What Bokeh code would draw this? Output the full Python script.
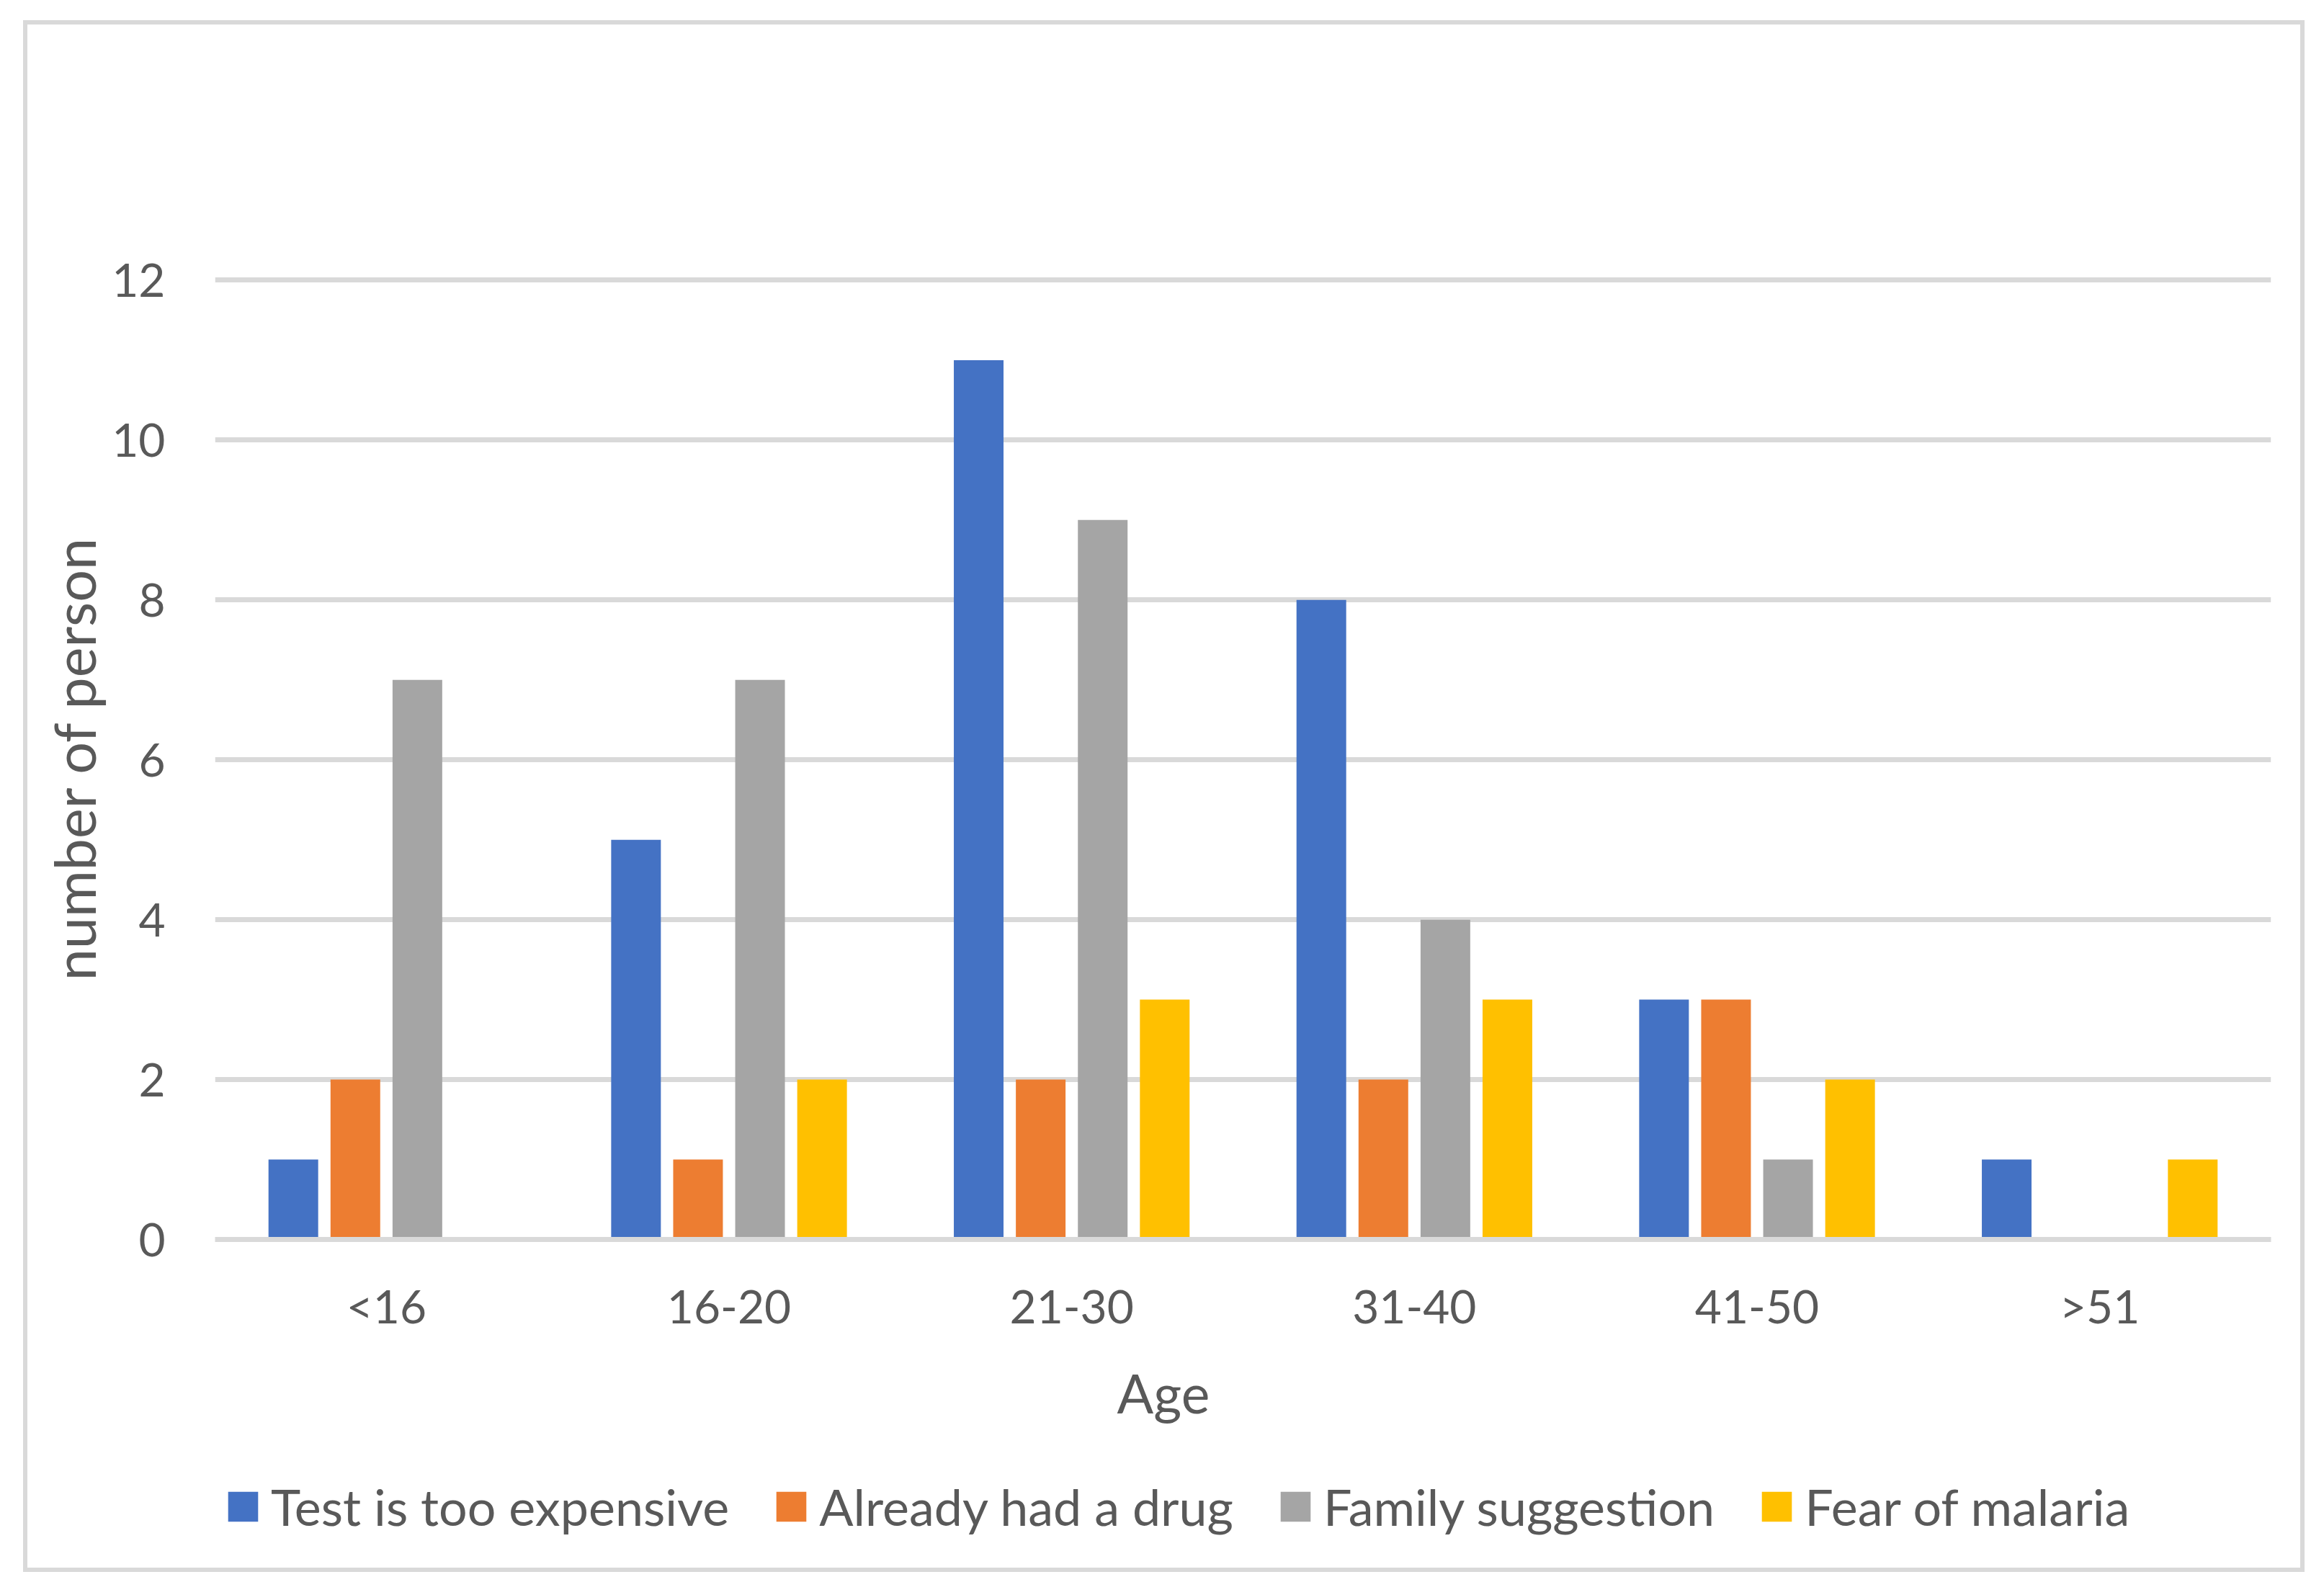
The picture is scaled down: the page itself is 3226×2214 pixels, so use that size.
from bokeh.plotting import figure
from bokeh.layouts import column
from bokeh.models import (FactorRange, Range1d, Legend, LegendItem, Title,
                          ColumnDataSource, FixedTicker)
from bokeh.transform import dodge
from bokeh.embed import file_html
from bokeh.resources import INLINE

age_groups = ["<16", "16-20", "21-30", "31-40", "41-50", ">51"]
test_expensive = [1, 5, 11, 8, 3, 1]
already_drug = [2, 1, 2, 2, 3, 0]
family_suggestion = [7, 7, 9, 4, 1, 0]
fear_malaria = [0, 2, 3, 3, 2, 1]
series_names = ["Test is too expensive", "Already had a drug", "Family suggestion", "Fear of malaria"]
series_colors = ["#4472C4", "#ED7D31", "#A5A5A5", "#FFC000"]
y_ticks = [0, 2, 4, 6, 8, 10, 12]

FONT = "Lato"
TXT = "#595959"
GRID = "#D9D9D9"
BORDER = "6px solid #D9D9D9"

src = ColumnDataSource(dict(age=age_groups, s0=test_expensive, s1=already_drug,
                            s2=family_suggestion, s3=fear_malaria))
cols = ["s0", "s1", "s2", "s3"]

# ---- main chart ----
fig = figure(x_range=FactorRange(*age_groups), y_range=Range1d(0, 12.04),
             width=3167, height=2001, output_backend="svg", toolbar_location=None,
             min_border_left=260, min_border_right=53, min_border_top=350, min_border_bottom=315)
fig.styles = {"border-top": BORDER, "border-left": BORDER, "border-right": BORDER,
              "border-bottom": "0px"}
fig.outline_line_color = None

step = 0.181
bw = 0.145
offsets = [-1.5 * step, -0.5 * step, 0.5 * step, 1.5 * step]
for i, col in enumerate(cols):
    fig.vbar(x=dodge("age", offsets[i], range=fig.x_range), top=col, width=bw, source=src,
             fill_color=series_colors[i], line_color=None)

fig.xgrid.grid_line_color = None
fig.ygrid.ticker = FixedTicker(ticks=y_ticks)
fig.ygrid.grid_line_color = GRID
fig.ygrid.grid_line_width = 7

fig.yaxis.ticker = FixedTicker(ticks=y_ticks)
fig.yaxis.axis_line_color = None
fig.yaxis.major_tick_line_color = None
fig.yaxis.minor_tick_line_color = None
fig.yaxis.major_label_text_font = FONT
fig.yaxis.major_label_text_font_size = "64px"
fig.yaxis.major_label_text_color = TXT
fig.yaxis.major_label_standoff = 63
fig.yaxis.axis_label = "number of person"
fig.yaxis.axis_label_text_font = FONT
fig.yaxis.axis_label_text_font_size = "79px"
fig.yaxis.axis_label_text_font_style = "normal"
fig.yaxis.axis_label_text_color = TXT
fig.yaxis.axis_label_standoff = 2

fig.xaxis.axis_line_color = GRID
fig.xaxis.axis_line_width = 7
fig.xaxis.major_tick_line_color = None
fig.xaxis.minor_tick_line_color = None
fig.xaxis.major_label_text_font = FONT
fig.xaxis.major_label_text_font_size = "64px"
fig.xaxis.major_label_text_color = TXT
fig.xaxis.major_label_standoff = 47

age_title = Title(text="Age", align="left", offset=1252, standoff=64,
                  text_font=FONT, text_font_size="75px", text_font_style="normal",
                  text_color=TXT)
fig.add_layout(age_title, "below")

# ---- legend strip (its frame is aligned with the chart frame by the column) ----
leg_fig = figure(x_range=FactorRange(*age_groups), y_range=Range1d(100, 200),
                 width=3167, height=153, output_backend="svg", toolbar_location=None,
                 x_axis_location=None, y_axis_location=None,
                 min_border_left=0, min_border_right=0, min_border_top=0, min_border_bottom=0)
leg_fig.styles = {"border-left": BORDER, "border-right": BORDER, "border-bottom": BORDER,
                  "border-top": "0px"}
leg_fig.outline_line_color = None
leg_fig.grid.visible = False

proxies = []
for i, col in enumerate(cols):
    proxies.append(leg_fig.vbar(x=dodge("age", offsets[i], range=leg_fig.x_range), top=col,
                                width=bw, source=src, fill_color=series_colors[i], line_color=None))

legend = Legend(items=[LegendItem(label=series_names[i], renderers=[proxies[i]]) for i in range(4)],
                location=(13, 49), orientation="horizontal",
                glyph_width=52, glyph_height=52, label_standoff=13, spacing=60,
                padding=0, margin=0, border_line_color=None, background_fill_alpha=0,
                label_text_font=FONT, label_text_font_size="70px", label_text_color=TXT)
leg_fig.add_layout(legend)

p = column(fig, leg_fig, spacing=0, styles={"margin-left": "32px", "margin-top": "28px"})

open("out.html", "w").write(file_html(p, INLINE))
